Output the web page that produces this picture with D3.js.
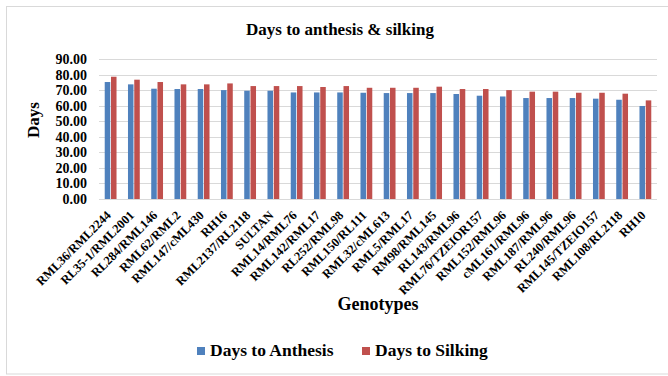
<!DOCTYPE html>
<html>
<head>
<meta charset="utf-8">
<script src="https://cdn.jsdelivr.net/npm/d3@7"></script>
<style>
  html, body { margin: 0; padding: 0; background: #fff; }
  svg { display: block; }
</style>
</head>
<body>
<svg id="chart" width="668" height="376"></svg>
<script>
const genotypes = ["RML36/RML2244","RL35-1/RML2001","RL284/RML146","RML62/RML2","RML147/cML430","RH16","RML2137/RL2118","SULTAN","RML14/RML76","RML142/RML17","RL252/RML98","RML150/RL111","RML32/cML613","RML5/RML17","RM98/RML145","RL143/RML96","RML76/TZEIOR157","RML152/RML96","cML161/RML96","RML187/RML96","RL240/RML96","RML145/TZEIO157","RML108/RL2118","RH10"];
const daysToAnthesis = [75.2,73.7,70.9,70.7,70.7,70.0,69.6,69.6,68.5,68.5,68.5,68.3,68.1,68.1,68.1,67.5,66.4,65.9,64.9,64.9,64.9,64.5,63.8,59.8];
const daysToSilking = [78.6,76.7,75.2,73.7,73.7,74.3,72.6,72.6,72.6,72.0,72.6,71.5,71.5,71.5,72.2,70.7,70.7,70.0,69.0,69.0,68.3,68.3,67.7,63.4];
const seriesNames = ["Days to Anthesis","Days to Silking"];
const seriesColors = ["#4f81bd","#c0504d"];
const yTicks = [0,10,20,30,40,50,60,70,80,90];
const titleText = "Days to anthesis & silking";
const xTitle = "Genotypes";
const yTitle = "Days";

const FONT = "'Liberation Serif', 'Times New Roman', Tinos, 'DejaVu Serif', serif";

const svg = d3.select("#chart");
const plot = {left: 99, right: 657, top: 59, bottom: 199};

svg.append("rect").attr("x", 6.5).attr("y", 6.5).attr("width", 670).attr("height", 367.5)
  .attr("fill", "#fff").attr("stroke", "#d9d9d9").attr("stroke-width", 1);

const x0 = d3.scaleBand().domain(genotypes).range([plot.left, plot.right]).paddingInner(0).paddingOuter(0);
const groupW = 11.8;
const x1 = d3.scaleBand().domain([0,1]).range([0, groupW]).paddingInner(0.12);
const y = d3.scaleLinear().domain([0, 90]).range([plot.bottom, plot.top]);

function styleText(sel, size) {
  return sel.attr("font-family", FONT).style("font-family", FONT)
    .attr("font-weight", "bold").style("font-weight", "bold")
    .style("font-size", size + "px").attr("fill", "#000");
}

// gridlines
svg.append("g").selectAll("line").data(yTicks).join("line")
  .attr("x1", plot.left).attr("x2", plot.right)
  .attr("y1", d => Math.round(y(d)) + 0.5).attr("y2", d => Math.round(y(d)) + 0.5)
  .attr("stroke", "#d9d9d9").attr("stroke-width", 1);

// y axis labels
const yAxis = d3.axisLeft(y).tickValues(yTicks).tickFormat(d3.format(".2f")).tickSize(0).tickPadding(0);
const yg = svg.append("g").attr("transform", `translate(${plot.left - 12},0)`).call(yAxis);
yg.attr("font-family", FONT);
yg.select(".domain").remove();
styleText(yg.selectAll("text"), 14);

// bars
const series = [daysToAnthesis, daysToSilking];
const groups = svg.append("g").selectAll("g").data(genotypes).join("g")
  .attr("transform", d => `translate(${x0(d) + (x0.bandwidth() - groupW) / 2},0)`);
groups.selectAll("rect").data((d, i) => series.map((s, k) => ({k, v: s[i]}))).join("rect")
  .attr("x", d => x1(d.k)).attr("width", x1.bandwidth())
  .attr("y", d => y(d.v)).attr("height", d => y(0) - y(d.v))
  .attr("fill", d => seriesColors[d.k]);

// x labels
styleText(svg.append("g").selectAll("text").data(genotypes).join("text")
  .attr("transform", d => `translate(${x0(d) + x0.bandwidth() / 2 + 1},216) rotate(-45)`)
  .attr("text-anchor", "end")
  .text(d => d), 12.5);

// title
styleText(svg.append("text").attr("x", 340).attr("y", 35).attr("text-anchor", "middle").text(titleText), 17);
// x title
styleText(svg.append("text").attr("x", 378).attr("y", 310).attr("text-anchor", "middle").text(xTitle), 18);
// y title
styleText(svg.append("text").attr("transform", "translate(39,120) rotate(-90)").attr("text-anchor", "middle").text(yTitle), 17);

// legend
const legendX = [197, 362];
const lg = svg.append("g").selectAll("g").data(seriesNames).join("g")
  .attr("transform", (d, i) => `translate(${legendX[i]},347)`);
lg.append("rect").attr("width", 8).attr("height", 8).attr("fill", (d, i) => seriesColors[i]);
styleText(lg.append("text").attr("x", 13).attr("y", 8.5).text(d => d), 17.5);
</script>
</body>
</html>
